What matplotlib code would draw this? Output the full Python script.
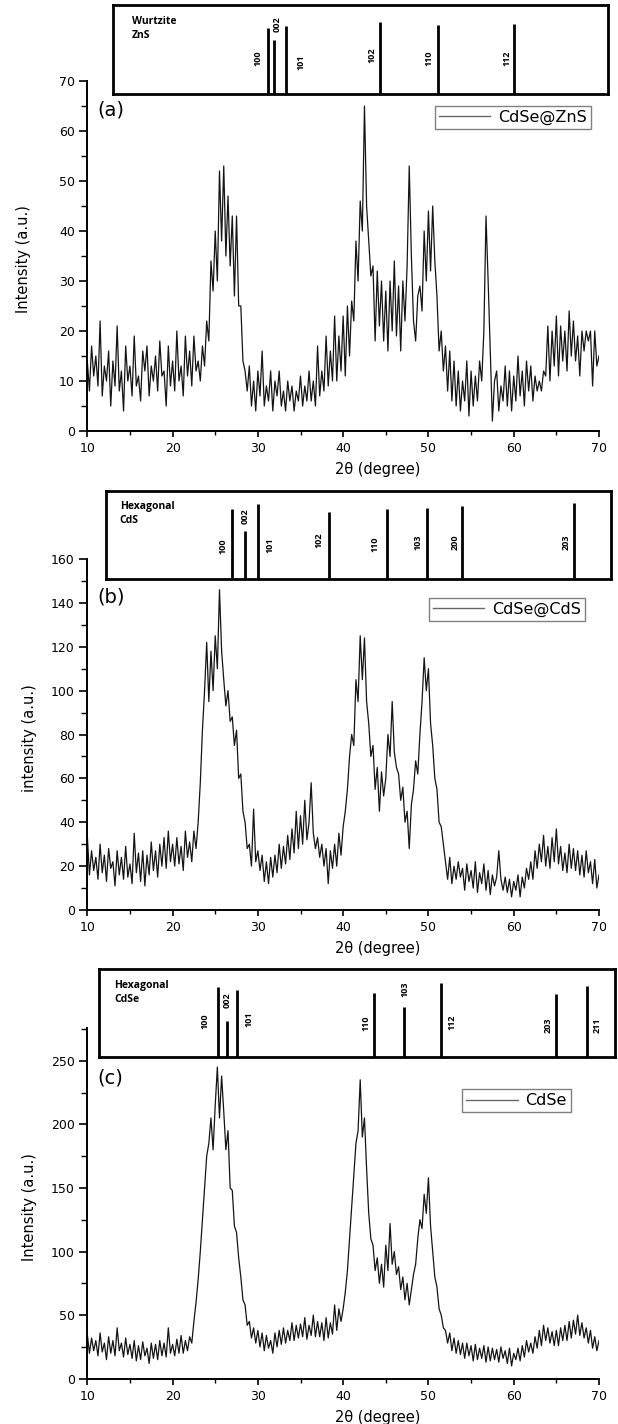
import numpy as np
import matplotlib
matplotlib.use('Agg')
from matplotlib import pyplot as plt
from matplotlib.ticker import MultipleLocator

# 2theta grid, 0.25 degree step
two_theta = np.linspace(10, 70, 241)

zns_counts = [
    14, 8, 17, 11,  15, 9, 22, 7,  13, 10, 16, 5,  14, 9, 21, 8,  12, 4, 17, 10,
    13, 7, 19, 9,  11, 6, 16, 12,  17, 7, 13, 10,  15, 8, 18, 11,  12, 5, 17, 9,
    14, 8, 20, 10,  13, 7, 19, 11,  16, 9, 19, 12,  14, 10, 17, 13,  22, 18, 34, 28,
    40, 30, 52, 38,  53, 35, 47, 33,  43, 27, 43, 25,  25, 14, 12, 8,  13, 5, 10, 4,
    12, 7, 16, 5,  9, 6, 12, 4,  10, 7, 12, 5,  8, 4, 10, 6,  9, 4, 8, 6,
    11, 5, 9, 6,  12, 6, 10, 5,  17, 7, 12, 8,  19, 9, 16, 10,  23, 10, 19, 12,
    23, 11, 25, 15,  26, 22, 38, 30,  46, 40, 65, 45,  38, 31, 33, 18,  32, 21, 30, 18,
    28, 16, 30, 20,  34, 19, 29, 16,  30, 22, 33, 53,  35, 22, 18, 27,  29, 24, 40, 30,
    44, 32, 45, 34,  27, 16, 20, 12,  17, 8, 16, 6,  14, 5, 12, 4,  10, 6, 14, 3,
    12, 5, 11, 6,  14, 10, 20, 43,  30, 16, 2, 10,  12, 4, 9, 6,  13, 5, 12, 4,
    11, 6, 15, 7,  12, 5, 14, 8,  13, 6, 11, 8,  10, 8, 12, 11,  21, 10, 20, 13,
    23, 11, 21, 14,  20, 12, 24, 15,  22, 14, 19, 11,  20, 16, 20, 18,  20, 9, 20, 13,
    15,
]

cds_counts = [
    34, 16, 27, 18,  24, 14, 30, 17,  25, 13, 28, 19,  22, 11, 27, 16,  24, 14, 29, 15,
    21, 12, 35, 17,  26, 13, 27, 11,  25, 16, 31, 18,  27, 15, 30, 20,  33, 19, 36, 22,
    30, 20, 33, 21,  29, 18, 36, 24,  31, 22, 36, 28,  40, 58, 82, 100,  122, 95, 118, 100,
    125, 110, 146, 118,  105, 93, 100, 86,  88, 75, 82, 60,  62, 45, 40, 28,  30, 20, 46, 22,
    27, 18, 25, 13,  22, 12, 24, 15,  25, 17, 30, 19,  29, 21, 34, 23,  37, 26, 45, 28,
    43, 30, 50, 32,  40, 58, 35, 28,  33, 24, 30, 20,  28, 12, 27, 19,  30, 20, 35, 25,
    38, 45, 55, 70,  80, 75, 105, 95,  125, 105, 124, 95,  85, 70, 75, 55,  65, 45, 63, 52,
    60, 80, 70, 95,  72, 65, 62, 50,  56, 40, 45, 28,  48, 55, 68, 62,  80, 95, 115, 100,
    110, 85, 75, 60,  55, 40, 38, 30,  22, 14, 24, 12,  20, 14, 22, 15,  19, 9, 21, 13,
    18, 10, 22, 8,  17, 12, 21, 9,  18, 7, 16, 11,  15, 27, 14, 9,  15, 8, 14, 6,
    13, 9, 16, 6,  15, 10, 19, 14,  22, 14, 27, 19,  30, 22, 34, 20,  29, 19, 33, 22,
    37, 21, 29, 18,  26, 17, 30, 19,  28, 18, 27, 16,  25, 15, 27, 17,  22, 12, 23, 10,
    16,
]

cdse_counts = [
    35, 20, 32, 22,  30, 18, 36, 21,  28, 15, 33, 20,  30, 18, 40, 22,  28, 17, 32, 19,
    27, 16, 30, 14,  26, 15, 29, 18,  24, 12, 28, 16,  27, 15, 30, 18,  28, 17, 40, 20,
    27, 18, 31, 20,  34, 20, 30, 22,  33, 28, 45, 60,  78, 100, 125, 150,  175, 185, 205, 180,
    215, 245, 205, 238,  210, 180, 195, 150,  148, 120, 115, 95,  80, 62, 58, 42,  45, 32, 40, 28,
    38, 25, 36, 22,  34, 24, 30, 20,  36, 25, 38, 27,  40, 28, 38, 30,  44, 30, 42, 32,
    43, 33, 48, 31,  42, 34, 50, 33,  45, 33, 44, 30,  48, 32, 44, 35,  58, 38, 55, 45,
    55, 68, 85, 110,  135, 160, 185, 195,  235, 190, 205, 165,  130, 110, 105, 85,  95, 75, 90, 72,
    105, 85, 122, 90,  100, 82, 88, 70,  80, 62, 75, 58,  70, 82, 90, 110,  125, 118, 145, 130,
    158, 120, 100, 80,  72, 55, 50, 40,  38, 28, 36, 22,  32, 20, 30, 19,  28, 16, 28, 18,
    26, 14, 27, 15,  24, 16, 26, 13,  25, 14, 24, 15,  23, 13, 25, 16,  22, 12, 24, 10,
    20, 15, 24, 14,  26, 17, 30, 21,  28, 20, 33, 24,  38, 26, 42, 30,  40, 28, 37, 26,
    38, 26, 40, 30,  42, 30, 45, 32,  46, 35, 50, 34,  44, 32, 40, 28,  38, 24, 33, 22,
    30,
]

# reference patterns (stick positions in 2theta, relative heights)
zns_pos = [31.2, 31.9, 33.3, 44.35, 51.1, 60.05]
zns_rel = [0.74, 0.61, 0.76, 0.81, 0.77, 0.79]
zns_hkl = ['100', '002', '101', '102', '110', '112']

cds_pos = [27.0, 28.5, 30.0, 38.3, 45.1, 49.8, 53.9, 67.1]
cds_rel = [0.79, 0.54, 0.85, 0.76, 0.79, 0.81, 0.83, 0.86]
cds_hkl = ['100', '002', '101', '102', '110', '103', '200', '203']

cdse_pos = [25.3, 26.4, 27.6, 43.6, 47.1, 51.5, 65.0, 68.6]
cdse_rel = [0.79, 0.41, 0.76, 0.73, 0.57, 0.84, 0.71, 0.80]
cdse_hkl = ['100', '002', '101', '110', '103', '112', '203', '211']

# where the hkl labels sit inside the boxes
zns_lab_x = [30.0, 32.3, 35.1, 43.4, 50.1, 59.2]
zns_lab_y = [0.40, 0.79, 0.36, 0.43, 0.40, 0.40]
cds_lab_x = [25.9, 28.5, 31.4, 37.2, 43.7, 48.8, 53.1, 66.1]
cds_lab_y = [0.375, 0.71, 0.386, 0.435, 0.40, 0.42, 0.42, 0.42]
cdse_lab_x = [23.8, 26.4, 29.0, 42.7, 47.3, 52.8, 64.0, 69.8]
cdse_lab_y = [0.41, 0.65, 0.43, 0.38, 0.77, 0.39, 0.36, 0.36]

W, H = 618, 1424
AX_L = 87.3 / W
AX_W = 511.7 / W


def panel(fig, y_top, y_bot, counts, ymax, major, name, tag, ylab, ylab_x, leg_anchor, tag_y):
    ax = fig.add_axes([AX_L, 1 - y_bot / H, AX_W, (y_bot - y_top) / H])
    ax.plot(two_theta, counts, color='#141414', lw=0.9, label=name)
    ax.set_xlim(10, 70)
    ax.set_ylim(0, ymax)
    ax.xaxis.set_major_locator(MultipleLocator(10))
    ax.xaxis.set_minor_locator(MultipleLocator(5))
    ax.yaxis.set_major_locator(MultipleLocator(major))
    ax.yaxis.set_minor_locator(MultipleLocator(major / 2))
    for s in ['top', 'right']:
        ax.spines[s].set_visible(False)
    for s in ['left', 'bottom']:
        ax.spines[s].set_linewidth(1.4)
    ax.tick_params(axis='x', which='major', direction='out', length=4, width=1.2, labelsize=9, pad=4)
    ax.tick_params(axis='x', which='minor', direction='out', length=3, width=1.0)
    ax.tick_params(axis='y', which='major', direction='out', length=6, width=1.2, labelsize=9, pad=3)
    ax.tick_params(axis='y', which='minor', direction='out', length=4, width=1.0)
    ax.set_xlabel('2θ (degree)', fontsize=10.5)
    ax.xaxis.set_label_coords(0.568, -0.088)
    ax.set_ylabel(ylab, fontsize=10.5)
    ax.yaxis.set_label_coords(ylab_x, 0.49)
    ax.text(0.02, tag_y, tag, transform=ax.transAxes, fontsize=14, va='center', ha='left')
    leg = ax.legend(loc='upper right', bbox_to_anchor=leg_anchor, borderaxespad=0,
                    fancybox=False, edgecolor='#808080', fontsize=11.5, handlelength=3.2,
                    handletextpad=0.5, borderpad=0.25, framealpha=1)
    leg.get_frame().set_linewidth(1.0)
    leg.get_lines()[0].set_color('#666666')
    leg.get_lines()[0].set_linewidth(1.0)
    return ax


def ref_box(fig, y_top, y_bot, xl, pos, rel, hkl, lab_x, lab_y, title, title_x, title_y):
    left = AX_L + (xl[0] - 10) / 60 * AX_W
    width = (xl[1] - xl[0]) / 60 * AX_W
    bx = fig.add_axes([left, 1 - y_bot / H, width, (y_bot - y_top) / H])
    bx.set_facecolor('white')
    bx.vlines(pos, 0, rel, color='black', lw=2.0)
    bx.set_xlim(*xl)
    bx.set_ylim(0, 1)
    bx.set_xticks([])
    bx.set_yticks([])
    for s in bx.spines.values():
        s.set_linewidth(2.0)
    for t, x, y in zip(hkl, lab_x, lab_y):
        bx.text(x, y, t, rotation=90, ha='center', va='center', fontsize=6.5,
                fontweight='bold', family='Open Sans')
    bx.text(title_x, title_y, title, ha='left', va='top', fontsize=7.5,
            fontweight='bold', family='Open Sans', linespacing=1.4)
    return bx


fig = plt.figure(figsize=(W / 100, H / 100), dpi=100)
plt.rcParams['font.family'] = ['DejaVu Sans']

panel(fig, 81, 431, zns_counts, 70, 10, 'CdSe@ZnS', '(a)', 'Intensity (a.u.)', -0.111,
      (0.984, 0.929), 0.917)
ref_box(fig, 5, 94, (13.0, 71.0), zns_pos, zns_rel, zns_hkl, zns_lab_x, zns_lab_y,
        'Wurtzite\nZnS', 15.2, 0.88)

panel(fig, 559, 910, cds_counts, 160, 20, 'CdSe@CdS', '(b)', 'intensity (a.u.)', -0.099,
      (0.972, 0.889), 0.893)
ref_box(fig, 491, 579, (12.2, 71.4), cds_pos, cds_rel, cds_hkl, cds_lab_x, cds_lab_y,
        'Hexagonal\nCdS', 13.8, 0.89)

panel(fig, 1028.3, 1378.7, cdse_counts, 275.5, 50, 'CdSe', '(c)', 'Intensity (a.u.)', -0.099,
      (0.945, 0.826), 0.859)
ref_box(fig, 968.7, 1057.3, (11.4, 71.9), cdse_pos, cdse_rel, cdse_hkl, cdse_lab_x, cdse_lab_y,
        'Hexagonal\nCdSe', 13.2, 0.87)

fig.savefig('out.png', dpi=100)
